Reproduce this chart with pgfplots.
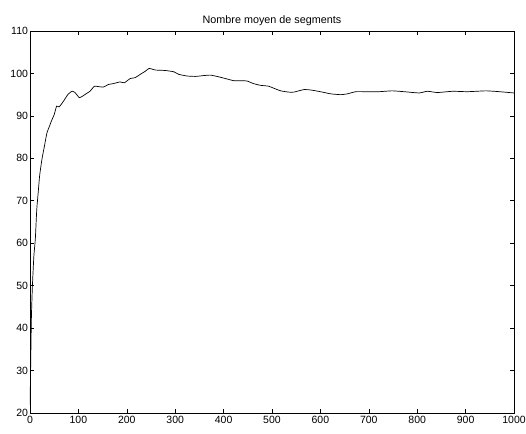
\documentclass[border=0pt]{standalone}
\usepackage{pgfplots}
\pgfplotsset{compat=1.18}
\usepackage{fontspec}
\setmainfont{Liberation Sans}

\pgfplotstableread{
x y
0 22
1 28
2 36
3 43
5 50
8 57
11 61
14 68
17 72
20 76
25 80
30 83
35 86
40 87.5
45 89
50 90.3
55 92.3
60 92.1
65 92.8
70 93.6
78 95.0
85 95.7
88 95.8
93 95.5
98 94.8
102 94.3
108 94.6
117 95.3
124 95.8
133 97.0
141 96.9
152 96.8
162 97.4
172 97.6
186 98.0
195 97.8
207 98.8
217 99.0
228 99.8
238 100.5
246 101.2
250 101.1
259 100.8
279 100.7
297 100.4
307 99.8
324 99.4
342 99.3
359 99.5
373 99.6
390 99.2
407 98.7
421 98.3
438 98.3
449 98.2
462 97.6
476 97.2
493 97.0
504 96.5
518 95.9
535 95.6
545 95.6
566 96.2
580 96.1
600 95.7
621 95.2
642 95.0
656 95.2
673 95.7
694 95.7
721 95.7
748 95.9
773 95.7
804 95.4
821 95.8
842 95.5
873 95.8
904 95.7
942 95.9
970 95.7
1000 95.4
}\segments

\begin{document}
\begin{tikzpicture}
\begin{axis}[
  at={(0pt,0pt)}, anchor=south west,
  scale only axis,
  width=484pt, height=382pt,
  xmin=0, xmax=1000, ymin=20, ymax=110,
  xtick={0,100,...,1000},
  ytick={20,30,...,110},
  tick align=inside,
  major tick length=4pt,
  tick style={black, line width=0.6pt},
  axis line style={black, line width=0.9pt},
  ticklabel style={font=\fontsize{10.5}{12}\selectfont},
  /pgf/number format/assume math mode=true,
  /pgf/number format/1000 sep={},
  xticklabel style={yshift=0pt},
  yticklabel style={xshift=1.5pt},
  title={Nombre moyen de segments},
  title style={font=\fontsize{10.8}{12}\selectfont, yshift=-4pt},
  axis background/.style={fill=white},
]
\addplot[black, line width=0.7pt, smooth, tension=0.3] table[x=x, y=y] {\segments};
\end{axis}
\pgfresetboundingbox
\useasboundingbox (-30pt,-20pt) rectangle (496pt,413pt);
\end{tikzpicture}
\end{document}
